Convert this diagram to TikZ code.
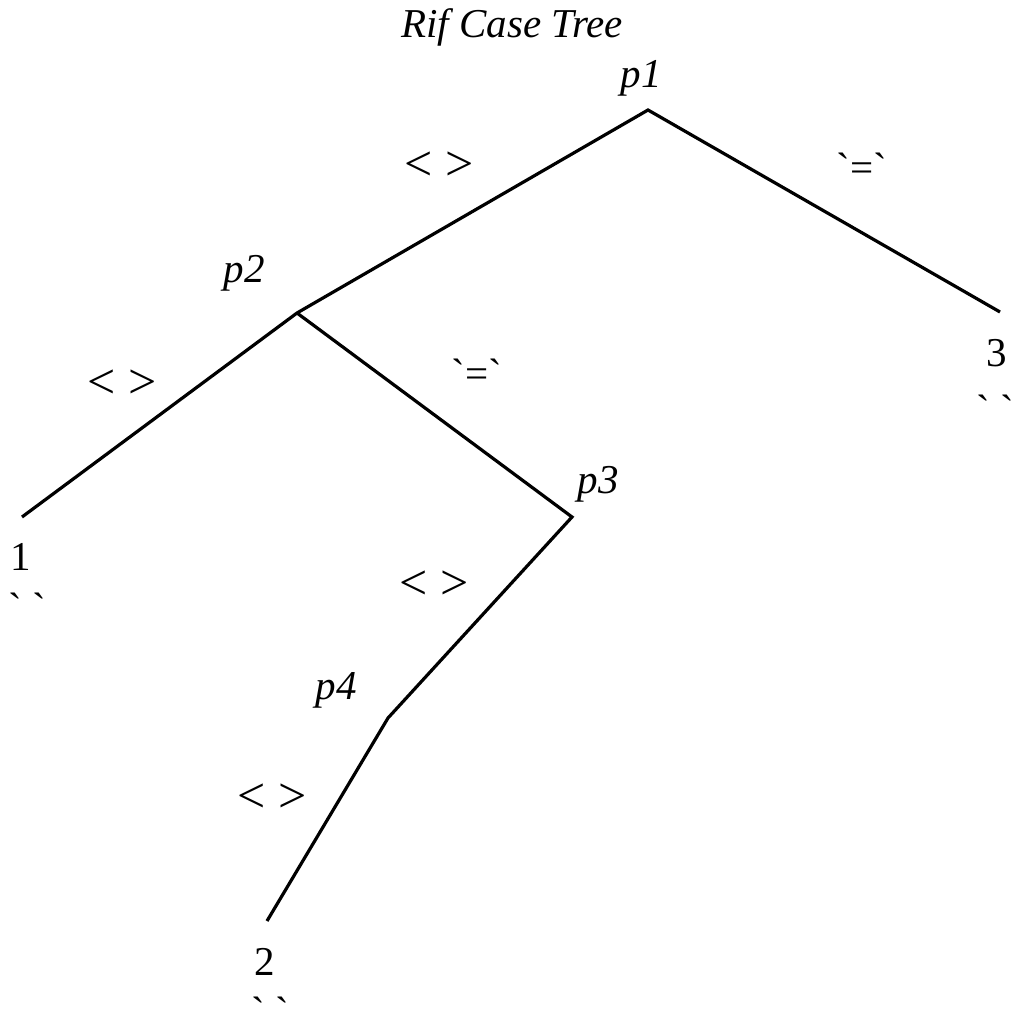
\documentclass[tikz,border=0pt]{standalone}
\usepackage{fontspec}
\setmainfont{Liberation Serif}
\usetikzlibrary{positioning}

\newcommand{\grv}{\textasciigrave}

\begin{document}
\begin{tikzpicture}[x=0.5pt, y=-0.5pt, font=\fontsize{20.5}{24}\selectfont,
      branch/.style={line width=1.6pt, line join=miter},
      pred/.style={anchor=base, inner sep=0pt, font=\fontsize{20.5}{24}\selectfont\itshape},
      edgelbl/.style={anchor=base, inner sep=0pt},
      neq/.style={edgelbl, font=\fontsize{25}{28}\selectfont},
      leaf/.style={anchor=base, inner sep=0pt},
      tick/.style={anchor=base, inner sep=0pt}]
    \useasboundingbox (0,0) rectangle (1013,1015);
    % ---- title
    \node[pred] (title) at (512,38) {Rif Case Tree};
    % ---- decision points
    \coordinate (p1) at (648,110);
    \coordinate (p2) at (297,313);
    \coordinate (p3) at (572,517);
    \coordinate (p4) at (388,718);
    \coordinate (l1) at (22,517);
    \coordinate (l2) at (267,921);
    \coordinate (l3) at (1000,312);
    \node[pred] (n1) at (641,88) {p1};
    \node[pred] (n2) at (244,283) {p2};
    \node[pred] (n3) at (598,493) {p3};
    \node[pred] (n4) at (336,699) {p4};
    % ---- branches
    \draw[branch] (l3) -- (p1) -- (p2) -- (l1);
    \draw[branch] (p2) -- (p3) -- (p4) -- (l2);
    % ---- branch labels
    \node[neq] (e12) at (439,181) {< >};
    \node[edgelbl] (e13) at (862,182) {\grv=\grv};
    \node[neq] (e21) at (122,398) {< >};
    \node[edgelbl] (e23) at (477,387) {\grv=\grv};
    \node[neq] (e34) at (434,599) {< >};
    \node[neq] (e42) at (272,812) {< >};
    % ---- leaves
    \foreach \nm/\x/\y/\tx/\ty/\txt in {v1/21/570/27/601/1, v2/265/975/270/1005/2, v3/997/367/995/403/3} {
      \node[leaf] (\nm) at (\x,\y) {\txt};
      \node[tick] (\nm t) at (\tx,\ty) {\raisebox{-0.5em}[0pt][0pt]{\grv\ \grv}};
    }
  \end{tikzpicture}
\end{document}
